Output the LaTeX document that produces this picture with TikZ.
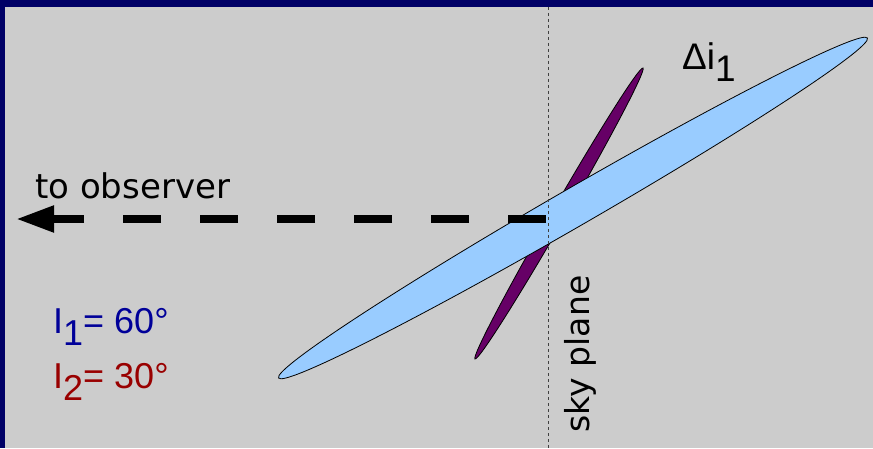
\documentclass[tikz,border=0pt]{standalone}
\usepackage{fontspec}
\setmainfont{Liberation Sans}
\newfontfamily\handfont{DejaVu Sans}
\usetikzlibrary{arrows.meta}
\definecolor{framenavy}{HTML}{000066}
\definecolor{panelgray}{HTML}{CCCCCC}
\definecolor{diskblue}{HTML}{99CCFF}
\definecolor{diskpurple}{HTML}{660066}
\definecolor{incblue}{HTML}{000099}
\definecolor{incred}{HTML}{990000}

\begin{document}
\begin{tikzpicture}[
    x=1pt, y=1pt,
    disk/.style={draw=black, line width=0.8pt},
    skyline/.style={draw=black!75, line width=0.8pt, dash pattern=on 3pt off 3pt},
    sightline/.style={draw=black, line width=8pt, dash pattern=on 38pt off 39pt,
      -{Triangle[length=38pt, width=25pt]}},
    lbl/.style={inner sep=0pt, anchor=base west},
  ]

  % ---- frame and panel
  \fill[framenavy] (0,0) rectangle (873,448);
  \fill[panelgray] (5,0) rectangle (873,441);
  \useasboundingbox (0,0) rectangle (873,448);

  % ---- the two disks, the thin one behind
  \draw[disk, fill=diskpurple] (559,234.5) ellipse[x radius=168, y radius=7, rotate=60];
  \draw[disk, fill=diskblue] (573,240) ellipse[x radius=340, y radius=19, rotate=30];

  % ---- sky plane
  \coordinate (skytop) at (548,441);
  \coordinate (skybot) at (548,0);
  \draw[skyline] (skytop) -- (skybot);
  \node[font=\handfont\fontsize{33}{36}\selectfont, rotate=90, inner sep=0pt] (sky) at (580,94) {sky plane};

  % ---- line of sight
  \coordinate (cross) at (546,229);
  \coordinate (obs) at (16,229);
  \draw[sightline] (cross) -- (obs);
  \node[lbl, font=\handfont\fontsize{34}{36}\selectfont] (toobs) at (35,250) {to observer};

  % ---- labels
  \node[lbl, font=\fontsize{37}{40}\selectfont] (dinc) at (682,378) {Δi\raisebox{-12pt}{1}};
  \node[lbl, font=\fontsize{36}{40}\selectfont, text=incblue] (inca) at (53,115) {I\raisebox{-12pt}{1}= 60°};
  \node[lbl, font=\fontsize{36}{40}\selectfont, text=incred] (incb) at (53,60) {I\raisebox{-12pt}{2}= 30°};

\end{tikzpicture}
\end{document}
